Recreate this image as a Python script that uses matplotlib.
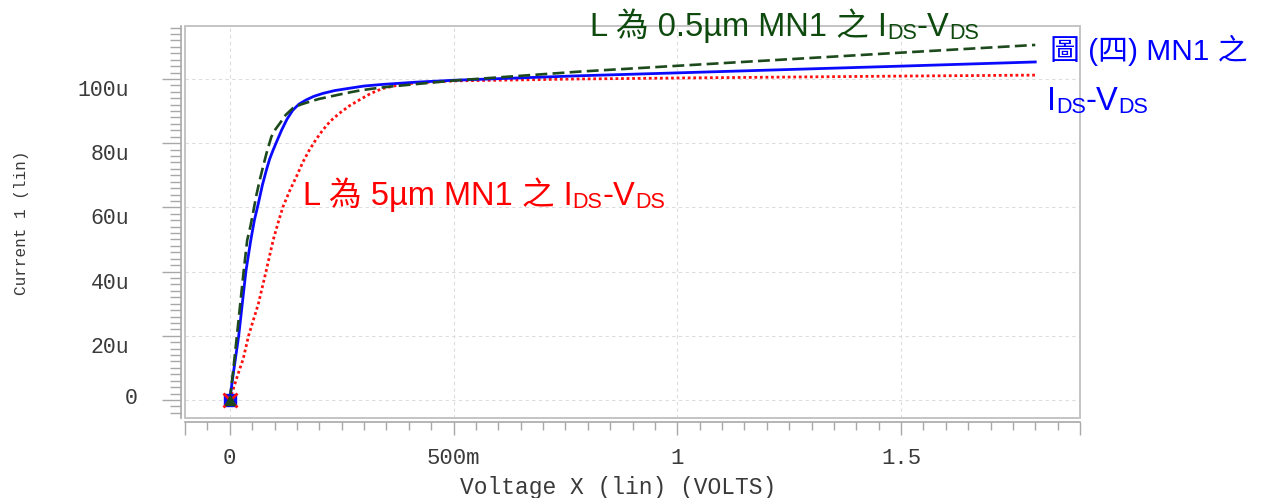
import matplotlib
matplotlib.use("Agg")
import matplotlib.pyplot as plt
from matplotlib.ticker import MultipleLocator
from matplotlib.patches import Rectangle
import matplotlib.transforms as mtransforms

# ---------------- data (V in volts, I in microamps) ----------------
v_blue = [0, 0.008, 0.020, 0.036, 0.047, 0.055, 0.064, 0.073, 0.082, 0.089, 0.097,
          0.107, 0.116, 0.128, 0.141, 0.155, 0.171, 0.188, 0.208, 0.235, 0.267,
          0.30, 0.341, 0.416, 0.5, 0.782, 1.0, 1.5, 1.8]
i_blue = [0, 8.3, 20, 40, 49.8, 56.0, 61.3, 67.0, 71.7, 75.0, 77.9,
          81.2, 84.1, 87.5, 90.3, 92.2, 93.5, 94.6, 95.5, 96.4, 97.1,
          97.8, 98.3, 99.0, 99.6, 101.0, 101.9, 104.0, 105.3]

v_green = [0, 0.007, 0.016, 0.031, 0.039, 0.046, 0.052, 0.059, 0.067, 0.075, 0.082,
           0.093, 0.102, 0.112, 0.125, 0.141, 0.158, 0.178, 0.20, 0.23, 0.26,
           0.29, 0.32, 0.356, 0.416, 0.5, 0.782, 1.0, 1.5, 1.8]
i_green = [0, 8.3, 20, 40, 49.8, 54.0, 58.2, 63.5, 68.5, 73.0, 76.8,
           82.0, 84.3, 86.2, 88.8, 90.9, 92.0, 92.9, 93.8, 94.7, 95.6,
           96.4, 97.0, 97.6, 98.4, 99.5, 102.3, 104.1, 108.2, 110.6]

v_red = [0, 0.019, 0.030, 0.042, 0.064, 0.081, 0.097, 0.108, 0.119, 0.134, 0.149,
         0.163, 0.178, 0.193, 0.208, 0.225, 0.245, 0.267, 0.29, 0.315, 0.341,
         0.37, 0.393, 0.416, 0.5, 0.782, 1.0, 1.5, 1.8]
i_red = [0, 8.3, 12.8, 20, 30, 40, 49.8, 55.2, 60.2, 65.2, 69.6,
         74.0, 77.9, 81.2, 84.1, 86.9, 89.3, 91.6, 93.5, 95.5, 97.0,
         97.9, 98.4, 98.8, 99.4, 100.0, 100.3, 100.9, 101.2]

xtick_vals = [-0.1, 0, 0.5, 1.0, 1.5, 1.9]
xtick_labels = ["", "0", "500m", "1", "1.5", ""]
ytick_vals = [0, 20, 40, 60, 80, 100]
ytick_labels = ["0", "20u", "40u", "60u", "80u", "100u"]

x_label = "Voltage X (lin) (VOLTS)"
y_label = "Current 1 (lin)"

# ---------------- figure ----------------
W, H = 1279, 498
fig = plt.figure(figsize=(W / 100, H / 100), dpi=100)
ax = fig.add_axes([185 / W, 1 - 418 / H, (1080 - 185) / W, (418 - 26) / H])

ax.plot(v_red, i_red, color="#ff1010", lw=2.0, ls=(0, (1, 1)), zorder=3)
ax.plot(v_blue, i_blue, color="#0a0aff", lw=2.0, zorder=4)
ax.plot(v_green, i_green, color="#1d4a1d", lw=1.9, ls=(0, (4.5, 2)), zorder=5)

# start markers
ax.plot(v_blue[:1], i_blue[:1], marker="s", ms=8, color="#0a0aff", ls="none", zorder=6, clip_on=False)
ax.plot(v_red[:1], i_red[:1], marker="x", ms=10, mew=2, color="#ff1010", ls="none", zorder=7, clip_on=False)
ax.plot(v_green[:1], i_green[:1], marker="^", ms=7, color="#1d4a1d", ls="none", zorder=8, clip_on=False)

ax.set_xlim(-0.1, 1.9)
ax.set_ylim(-5.6, 116.5)

# frame
for s in ("top", "right"):
    ax.spines[s].set_visible(False)
for s in ("left", "bottom"):
    ax.spines[s].set_position(("outward", 2.9))
    ax.spines[s].set_color("#a8a8a8")
    ax.spines[s].set_linewidth(1.2)
ax.add_patch(Rectangle((0, 0), 1, 1, transform=ax.transAxes, fill=False,
                       ec="#c4c4c4", lw=1.4, clip_on=False, zorder=1))

ax.set_xticks(xtick_vals, xtick_labels)
ax.set_yticks(ytick_vals, ytick_labels)
ax.xaxis.set_minor_locator(MultipleLocator(0.05))
ax.yaxis.set_minor_locator(MultipleLocator(2))

ax.tick_params(axis="x", which="major", direction="out", length=9.4, width=1,
               color="#a8a8a8", pad=9, labelsize=16, labelcolor="#3a3a3a")
ax.tick_params(axis="x", which="minor", direction="out", length=5.8, width=1, color="#a8a8a8")
ax.tick_params(axis="y", which="major", direction="out", length=13.7, width=1,
               color="#a8a8a8", pad=23.5, labelsize=15.5, labelcolor="#3a3a3a")
ax.tick_params(axis="y", which="minor", direction="out", length=7.9, width=1, color="#a8a8a8")

ax.grid(True, which="major", ls=(0, (3, 3)), color="#dcdcdc", lw=0.8, zorder=0)
ax.set_axisbelow(True)

for lbl in ax.get_xticklabels() + ax.get_yticklabels():
    lbl.set_fontfamily("Liberation Mono")
for lbl in ax.get_yticklabels():
    if lbl.get_text() == "0":
        off = mtransforms.ScaledTranslation(0.08, 0.04, fig.dpi_scale_trans)
    else:
        off = mtransforms.ScaledTranslation(0, -0.09, fig.dpi_scale_trans)
    lbl.set_transform(lbl.get_transform() + off)

fig.text(618 / W, 1 - 487 / H, x_label, ha="center", va="center",
         family="Liberation Mono", fontsize=16.5, color="#3a3a3a")
fig.text(22 / W, 1 - 223 / H, y_label, ha="center", va="center", rotation=90,
         family="Liberation Mono", fontsize=11.5, color="#3a3a3a")

# ---------------- annotations with subscripts ----------------
fams = ["Liberation Sans", "Noto Sans CJK TC"]
renderer = fig.canvas.get_renderer()


def chain(x0, base_y, parts, color, size):
    x = x0
    for txt, sub in parts:
        fs = size * (0.66 if sub else 1.0)
        y = base_y + (3 if sub else 0)
        t = fig.text(x / W, 1 - y / H, txt, ha="left", va="baseline",
                     family=fams, fontsize=fs, color=color)
        bb = t.get_window_extent(renderer)
        x = bb.x1


chain(590, 36, [("L 為 0.5µm MN1 之 I", False), ("DS", True), ("-V", False), ("DS", True)],
      "#0e4a0e", 23.5)
chain(303, 205, [("L 為 5µm MN1 之 I", False), ("DS", True), ("-V", False), ("DS", True)],
      "#ff0000", 23.5)
chain(1050, 60, [("圖 (四) MN1 之", False)], "#0000ff", 21.5)
chain(1047, 110, [("I", False), ("DS", True), ("-V", False), ("DS", True)], "#0000ff", 23.5)

fig.savefig("out.png", dpi=100)
